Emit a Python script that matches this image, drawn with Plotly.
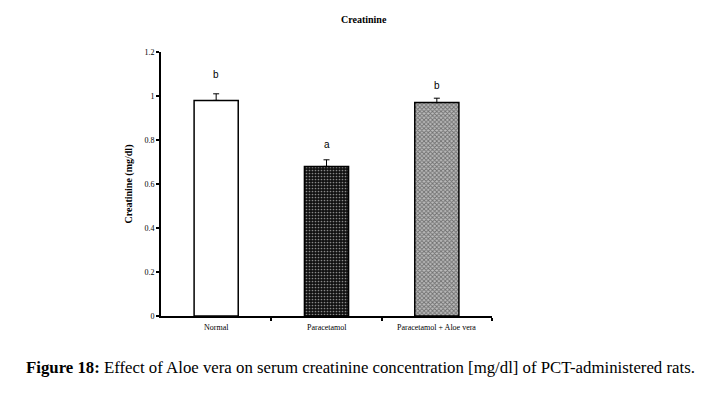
import plotly.graph_objects as go

categories = ["Normal", "Paracetamol", "Paracetamol + Aloe vera"]
values = [0.98, 0.68, 0.97]
errors = [0.03, 0.03, 0.02]
letters = ["b", "a", "b"]
letter_y = [1.10, 0.78, 1.05]
y_ticks = [0, 0.2, 0.4, 0.6, 0.8, 1, 1.2]
y_tick_text = ["0", "0.2", "0.4", "0.6", "0.8", "1", "1.2"]

x_pos = [0, 1, 2]
patterns = [
    dict(shape="", bgcolor="white"),
    dict(shape=".", fgcolor="white", bgcolor="#111111", size=3, solidity=0.25),
    dict(shape="x", fgcolor="#222222", bgcolor="#bbbbbb", size=3, solidity=0.5),
]

fig = go.Figure()
for i in range(3):
    fig.add_trace(go.Bar(
        x=[x_pos[i]], y=[values[i]], width=0.4,
        marker=dict(color="white", line=dict(color="black", width=1.5), pattern=patterns[i]),
        error_y=dict(type="data", symmetric=False, array=[errors[i]], arrayminus=[0],
                     color="black", thickness=1, width=3),
        showlegend=False,
    ))

for i in range(3):
    fig.add_annotation(x=x_pos[i], y=letter_y[i], text=letters[i], showarrow=False,
                       font=dict(family="Liberation Sans, Arial", size=10, color="black"))
    fig.add_annotation(x=x_pos[i], y=0, yshift=-11, text=categories[i], showarrow=False,
                       yanchor="middle",
                       font=dict(family="Liberation Serif, Times New Roman", size=8, color="black"))

fig.add_annotation(xref="paper", yref="paper", x=0.612, y=1.0, yshift=33, text="<b>Creatinine</b>",
                   showarrow=False, xanchor="center", yanchor="middle",
                   font=dict(family="Liberation Serif, Times New Roman", size=10, color="black"))
fig.add_annotation(xref="paper", yref="paper", x=0.603, y=0, yshift=-51,
                   text="<b>Figure 18:</b> Effect of Aloe vera on serum creatinine concentration [mg/dl] of PCT-administered rats.",
                   showarrow=False, xanchor="center", yanchor="middle",
                   font=dict(family="Liberation Serif, Times New Roman", size=16.8, color="black"))

fig.update_layout(
    width=717, height=396,
    margin=dict(l=153, r=233, t=44, b=88),
    plot_bgcolor="white", paper_bgcolor="white",
    bargap=0.6,
)
fig.update_xaxes(range=[-0.5, 2.5], tickvals=[0.5, 1.5, 2.5], ticktext=["", "", ""],
                 ticks="outside", ticklen=3, tickwidth=2, tickcolor="black",
                 showline=True, linecolor="black", linewidth=2, showgrid=False, zeroline=False)
fig.update_yaxes(range=[0, 1.2], tickvals=y_ticks, ticktext=y_tick_text,
                 ticks="outside", ticklen=3, tickwidth=2, tickcolor="black",
                 showline=True, linecolor="black", linewidth=2, showgrid=False, zeroline=False,
                 tickfont=dict(family="Liberation Serif, Times New Roman", size=8, color="black"),
                 title=dict(text="<b>Creatinine (mg/dl)</b>", standoff=10,
                            font=dict(family="Liberation Serif, Times New Roman", size=10, color="black")))

fig.write_html("out.html")
